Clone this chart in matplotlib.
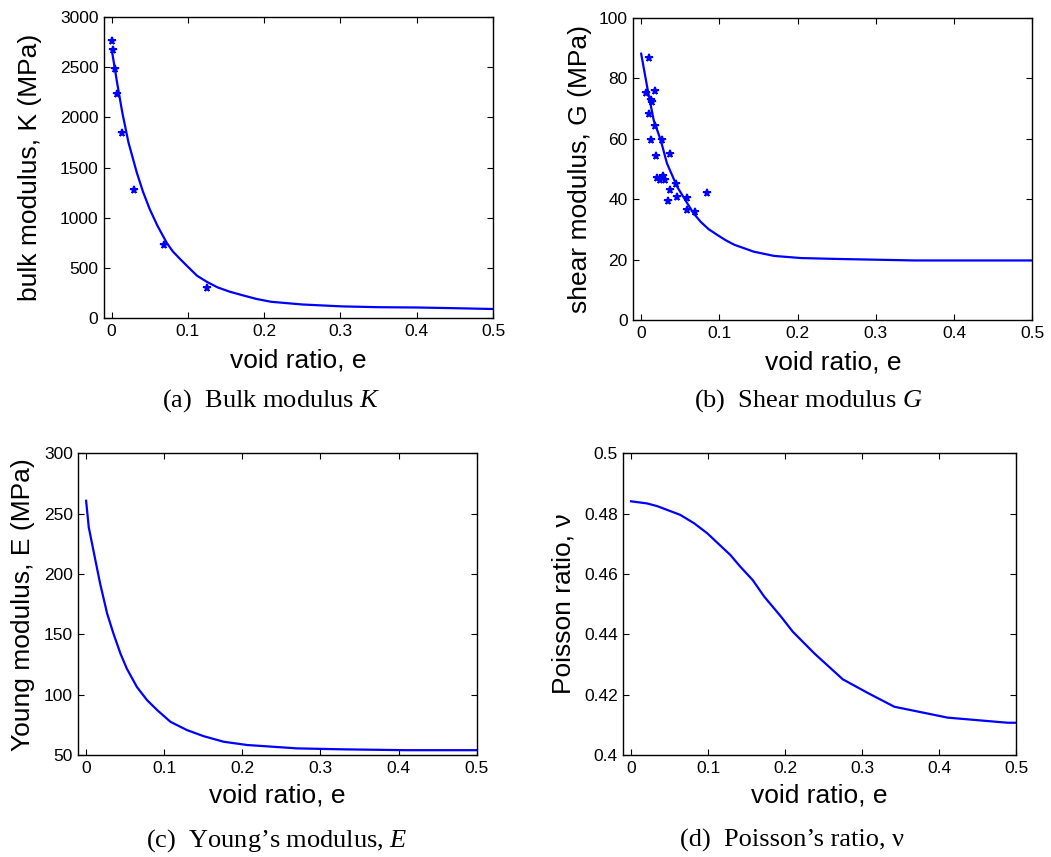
import matplotlib
matplotlib.use("Agg")
from matplotlib import pyplot

# ----------------------------------------------------------------- data ----
# (a) bulk modulus
k_fit_e = [0.0, 0.007, 0.014, 0.022, 0.033, 0.041, 0.05, 0.06, 0.072, 0.08,
           0.09, 0.1, 0.112, 0.125, 0.139, 0.155, 0.174, 0.19, 0.209, 0.25,
           0.302, 0.35, 0.40, 0.45, 0.5]
k_fit = [2680, 2350, 2045, 1750, 1448, 1260, 1083, 920, 752, 665,
         586, 510, 421, 360, 305, 262, 222, 190, 162, 135,
         116, 108, 105, 98, 90]
k_pts_e = [0.0, 0.002, 0.0045, 0.0066, 0.014, 0.0287, 0.068, 0.125]
k_pts = [2763, 2674, 2485, 2234, 1842, 1275, 726, 298]

# (b) shear modulus
g_fit_e = [0.0, 0.0077, 0.016, 0.025, 0.033, 0.046, 0.059, 0.067, 0.076,
           0.086, 0.097, 0.108, 0.119, 0.144, 0.17, 0.204, 0.25, 0.29, 0.35,
           0.42, 0.5]
g_fit = [88.1, 77.1, 66.1, 59.5, 51.8, 44.1, 38.6, 35.3, 32.5,
         30.1, 28.2, 26.4, 24.9, 22.6, 21.2, 20.5, 20.2, 20.0, 19.7,
         19.7, 19.7]
g_pts_e = [0.0094, 0.006, 0.018, 0.012, 0.0145, 0.0094, 0.0175, 0.0128,
           0.0265, 0.019, 0.037, 0.0205, 0.0273, 0.0247, 0.031, 0.044,
           0.037, 0.034, 0.0457, 0.058, 0.058, 0.069, 0.084]
g_pts = [86.7, 75.2, 75.9, 72.7, 72.1, 68.1, 64.1, 59.5,
         59.4, 54.2, 54.8, 47.1, 47.7, 46.2, 46.4, 45.1,
         43.1, 39.4, 40.6, 40.3, 36.3, 35.6, 42.1]

# (c) Young modulus
e_fit_e = [0.0, 0.0034, 0.012, 0.018, 0.027, 0.035, 0.044, 0.052, 0.065,
           0.078, 0.091, 0.108, 0.129, 0.15, 0.176, 0.206, 0.27, 0.33,
           0.41, 0.5]
e_fit = [260.7, 238.7, 211, 191.9, 167, 150.6, 134, 121.7, 106.4,
         95.5, 87.2, 77.5, 70.7, 65.7, 61, 58.3, 55.5, 54.7,
         54.0, 54.0]

# (d) Poisson ratio
nu_fit_e = [0.0, 0.0208, 0.034, 0.064, 0.082, 0.099, 0.114, 0.129, 0.142,
            0.158, 0.173, 0.195, 0.210, 0.238, 0.275, 0.308, 0.342, 0.411,
            0.489, 0.5]
nu_fit = [0.4841, 0.4834, 0.4825, 0.4796, 0.4768, 0.4735, 0.4699, 0.4663,
          0.4624, 0.458, 0.4525, 0.4458, 0.4409, 0.4337, 0.4251, 0.4205,
          0.416, 0.4124, 0.4107, 0.4107]

x_ticks = [0, 0.1, 0.2, 0.3, 0.4, 0.5]
x_labels = ["0", "0.1", "0.2", "0.3", "0.4", "0.5"]

SANS = "Liberation Sans"
SERIF = "Liberation Serif"
TICK_SIZE = 12.5
LABEL_SIZE = 19
CAPTION_SIZE = 19
BLUE = (0, 0, 1)


def style_axes(ax, yticks, ylabels, ylim, ylabel, ylab_x, xlab_y):
    ax.set_xlim(-0.01, 0.5)
    ax.set_ylim(*ylim)
    ax.set_xticks(x_ticks)
    ax.set_xticklabels(x_labels, family=SANS, fontsize=TICK_SIZE)
    ax.set_yticks(yticks)
    ax.set_yticklabels(ylabels, family=SANS, fontsize=TICK_SIZE)
    ax.tick_params(direction="in", length=4, width=0.8, top=True, right=True,
                   pad=4, colors="black")
    for sp in ax.spines.values():
        sp.set_linewidth(1.0)
    ax.set_xlabel("void ratio, e", family=SANS, fontsize=LABEL_SIZE,
                  va="baseline")
    ax.set_ylabel(ylabel, family=SANS, fontsize=LABEL_SIZE)
    ax.xaxis.set_label_coords(0.5, xlab_y)
    ax.yaxis.set_label_coords(ylab_x, 0.5)


def main():
    pyplot.rcParams["mathtext.fontset"] = "custom"
    pyplot.rcParams["mathtext.it"] = SERIF + ":italic"
    pyplot.rcParams["mathtext.rm"] = SERIF

    fig = pyplot.figure(figsize=(10.51, 8.57), dpi=100)

    # axes rectangles in figure fractions
    ax_a = fig.add_axes([0.0990, 0.6289, 0.3701, 0.3512])
    ax_b = fig.add_axes([0.6026, 0.6266, 0.3796, 0.3527])
    ax_c = fig.add_axes([0.0745, 0.1190, 0.3791, 0.3520])
    ax_d = fig.add_axes([0.5931, 0.1190, 0.3736, 0.3520])

    ax_a.plot(k_fit_e, k_fit, color=BLUE, lw=1.6)
    ax_a.plot(k_pts_e, k_pts, ls="none", marker="*", ms=5.5, mew=1.3,
              color=BLUE)
    style_axes(ax_a, [0, 500, 1000, 1500, 2000, 2500, 3000],
               ["0", "500", "1000", "1500", "2000", "2500", "3000"],
               (0, 3000), "bulk modulus, K (MPa)", -0.159, -0.163)

    ax_b.plot(g_fit_e, g_fit, color=BLUE, lw=1.6)
    ax_b.plot(g_pts_e, g_pts, ls="none", marker="*", ms=5.5, mew=1.3,
              color=BLUE)
    style_axes(ax_b, [0, 20, 40, 60, 80, 100],
               ["0", "20", "40", "60", "80", "100"],
               (0, 100), "shear modulus, G (MPa)", -0.104, -0.163)

    ax_c.plot(e_fit_e, e_fit, color=BLUE, lw=1.6)
    style_axes(ax_c, [50, 100, 150, 200, 250, 300],
               ["50", "100", "150", "200", "250", "300"],
               (50, 300), "Young modulus, E (MPa)", -0.109, -0.159)

    ax_d.plot(nu_fit_e, nu_fit, color=BLUE, lw=1.6)
    style_axes(ax_d, [0.4, 0.42, 0.44, 0.46, 0.48, 0.5],
               ["0.4", "0.42", "0.44", "0.46", "0.48", "0.5"],
               (0.4, 0.5), "Poisson ratio, \u03bd", -0.123, -0.159)

    # sub-figure captions
    W, H = 1051.0, 857.0
    captions = [(271, 407, "(a)  Bulk modulus $K$"),
                (808, 407, "(b)  Shear modulus $G$"),
                (277, 847, "(c)  Young\u2019s modulus, $E$"),
                (792, 847, "(d)  Poisson\u2019s ratio, \u03bd")]
    for cx, cy, txt in captions:
        fig.text(cx / W, 1 - cy / H, txt, family=SERIF, fontsize=CAPTION_SIZE,
                 ha="center", va="baseline")

    fig.savefig("out.png", dpi=100)


if __name__ == '__main__':
    main()
